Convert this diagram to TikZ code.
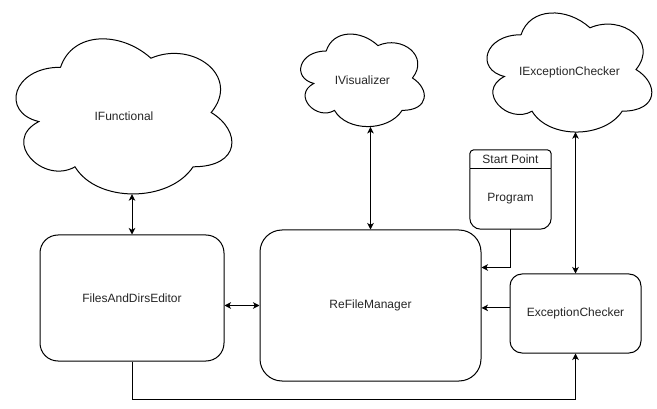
\documentclass[tikz,border=0pt]{standalone}
\usepackage{fontspec}
\setmainfont{Liberation Sans}
\usetikzlibrary{arrows.meta,calc}
\newcommand{\cloudpath}{(0.25,0.25) .. controls (0.05,0.25) and (0,0.5) .. (0.16,0.55)
 .. controls (0,0.66) and (0.18,0.9) .. (0.31,0.8)
 .. controls (0.4,1) and (0.7,1) .. (0.8,0.8)
 .. controls (1,0.8) and (1,0.6) .. (0.875,0.5)
 .. controls (1,0.3) and (0.8,0.1) .. (0.625,0.2)
 .. controls (0.5,0.05) and (0.3,0.05) .. (0.25,0.25) -- cycle}
\begin{document}
\begin{tikzpicture}[x=1pt,y=-1pt,
  every node/.style={font=\fontsize{12}{14}\selectfont, text=black!85},
  line/.style={draw=black, line width=1pt},
  tip/.style={-{Stealth[length=6.5pt,width=6.5pt,inset=1.8pt]}},
  tips/.style={{Stealth[length=6.5pt,width=6.5pt,inset=1.8pt]}-{Stealth[length=6.5pt,width=6.5pt,inset=1.8pt]}},
  cloudarea/.style={inner sep=0pt, draw=none},
  rbox/.style={draw=black, line width=1pt, inner sep=0pt}]
\useasboundingbox[fill=white] (0,0) rectangle (657,409);

% clouds
\begin{scope}[shift={(0.3,22)}, x=241pt, y=-181pt]
  \draw[line] \cloudpath;
\end{scope}
\node[cloudarea, minimum width=216pt, minimum height=155pt] (ifunc) at (124,116.5) {IFunctional};

\begin{scope}[shift={(291.7,24)}, x=138pt, y=-108pt]
  \draw[line] \cloudpath;
\end{scope}
\node[cloudarea, minimum width=123.3pt, minimum height=92.7pt] (ivis) at (362.4,80.4) {IVisualizer};

\begin{scope}[shift={(475,0)}, x=184pt, y=-139pt]
  \draw[line] \cloudpath;
\end{scope}
\node[cloudarea, minimum width=165pt, minimum height=119pt] (iexc) at (569.5,72.5) {IExceptionChecker};

% boxes
\node[rbox, rounded corners=18pt, minimum width=184pt, minimum height=126pt] (fde) at (132,298) {FilesAndDirsEditor};
\node[rbox, rounded corners=22pt, minimum width=221pt, minimum height=151pt] (rfm) at (370.5,305.5) {ReFileManager};
\node[rbox, rounded corners=12pt, minimum width=131pt, minimum height=79pt] (exc) at (575.5,313.5) {ExceptionChecker};

% program swimlane
\node[inner sep=0pt, minimum width=81pt, minimum height=79pt] (prog) at (510.5,189.5) {};
\coordinate (hl) at ($(prog.north west)+(0,18.5)$);
\coordinate (hr) at ($(prog.north east)+(0,18.5)$);
\draw[line, rounded corners=4pt] (hl) -- (prog.north west) -- (prog.north east) -- (hr);
\draw[line, rounded corners=11pt] (hl) -- (prog.south west) -- (prog.south east) -- (hr);
\draw[line] (hl) -- (hr);
\node (sp) at ($(hl)!0.5!(prog.north east)$) {Start Point};
\node (pg) at ($(hl)!0.5!(prog.south east)$) {Program};

% connectors
\draw[line, tips] (ifunc.south -| fde.north) -- (fde.north);
\draw[line, tips] (ivis.south -| rfm.north) -- (rfm.north);
\draw[line, tips] (iexc.south -| exc.north) -- (exc.north);
\draw[line, tips] (fde.east |- rfm.west) -- (rfm.west);
\coordinate (rin) at ($(rfm.north east)!0.25!(rfm.south east)$);
\draw[line, tip] (prog.south) |- (rin);
\coordinate (eout) at ($(exc.north west)!0.43!(exc.south west)$);
\draw[line, tip] (eout) -- (eout -| rfm.east);
\coordinate (low) at (0,399);
\draw[line, tip] (fde.south) -- (fde.south |- low) -| (exc.south);
\end{tikzpicture}
\end{document}
